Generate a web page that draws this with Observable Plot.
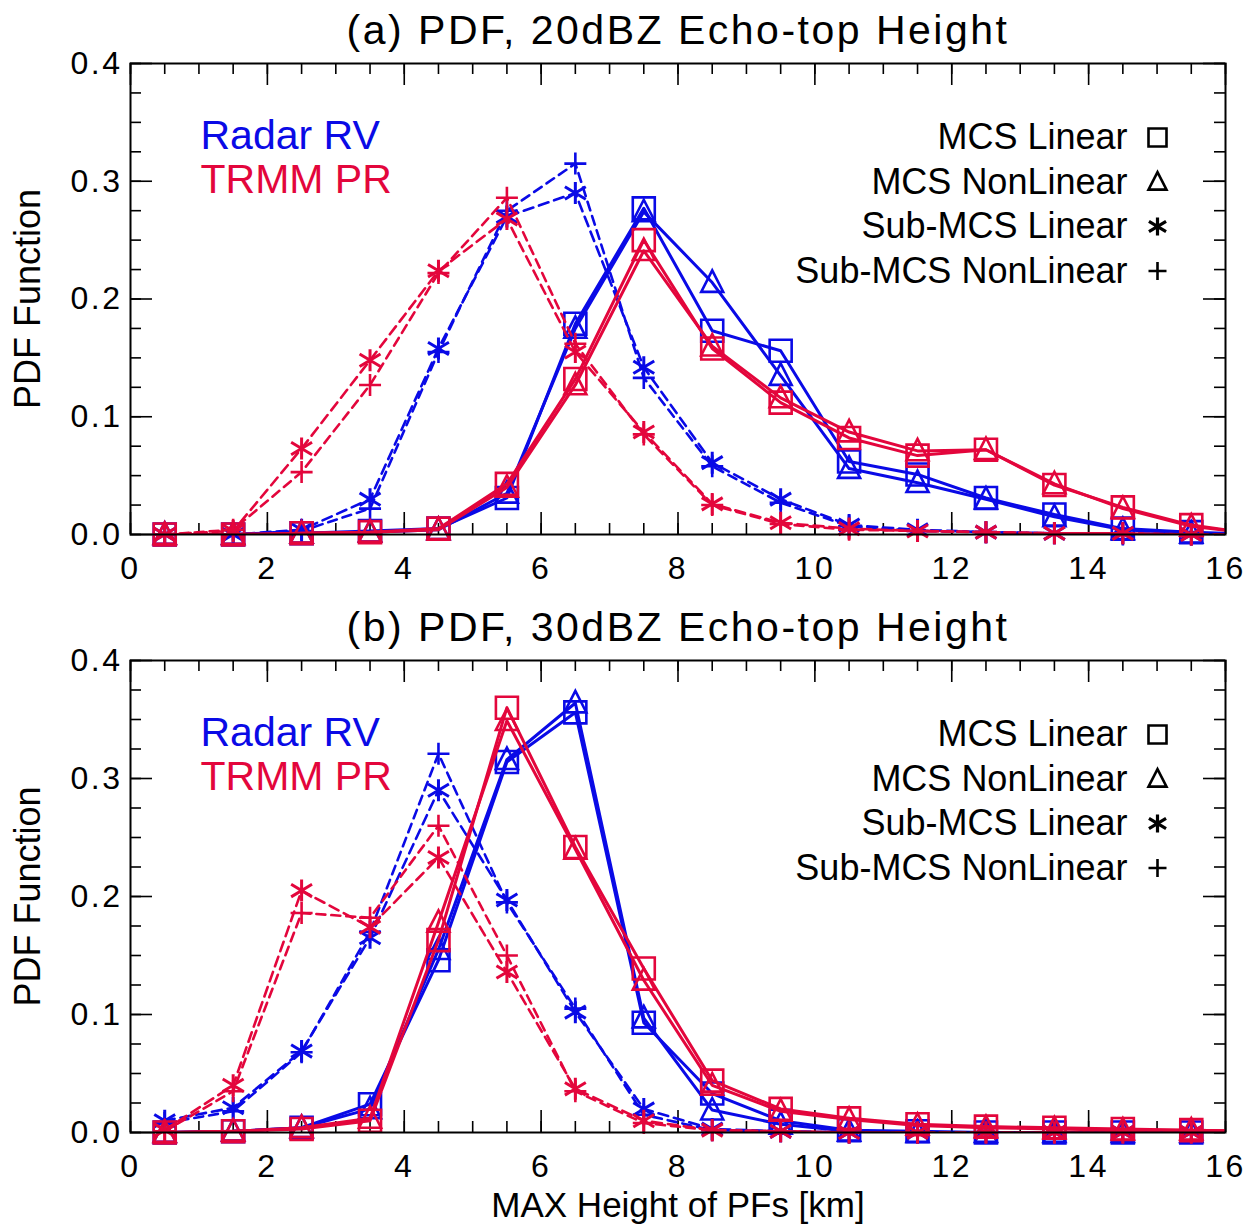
<!DOCTYPE html>
<html>
<head>
<meta charset="utf-8">
<script src="https://cdn.jsdelivr.net/npm/d3@7"></script>
<script src="https://cdn.jsdelivr.net/npm/@observablehq/plot@0.6"></script>
<style>
  body { margin: 0; background: #fff; }
  #fig { position: relative; width: 1255px; height: 1228px; background: #fff; }
  #fig svg { position: absolute; left: 0; overflow: visible; }
  .wide text { letter-spacing: 2.5px; }
</style>
</head>
<body>
<div id="fig"></div>
<script>
// Bin centres of the maximum PF height (km); the last bin lies past the axis and is clipped
const binCenters = [0.5, 1.5, 2.5, 3.5, 4.5, 5.5, 6.5, 7.5, 8.5, 9.5, 10.5, 11.5, 12.5, 13.5, 14.5, 15.5, 16.5];

const sourceNames = ["Radar RV", "TRMM PR"];
const typeNames = ["MCS Linear", "MCS NonLinear", "Sub-MCS Linear", "Sub-MCS NonLinear"];

// (a) 20 dBZ echo-top height PDFs
const a_radar_mcsLinear     = [0, 0, 0.001, 0.003, 0.005, 0.031, 0.179, 0.277, 0.173, 0.156, 0.062, 0.051, 0.031, 0.017, 0.005, 0.002, 0];
const a_radar_mcsNonLinear  = [0, 0, 0.001, 0.002, 0.004, 0.035, 0.175, 0.274, 0.214, 0.135, 0.056, 0.044, 0.030, 0.015, 0.004, 0.001, 0];
const a_radar_subLinear     = [0, 0, 0.004, 0.030, 0.158, 0.270, 0.290, 0.142, 0.061, 0.030, 0.008, 0.004, 0.002, 0.001, 0.001, 0, 0];
const a_radar_subNonLinear  = [0, 0, 0.003, 0.022, 0.155, 0.275, 0.315, 0.133, 0.058, 0.027, 0.007, 0.003, 0.002, 0.001, 0, 0, 0];
const a_trmm_mcsLinear      = [0, 0, 0.001, 0.002, 0.005, 0.043, 0.132, 0.250, 0.158, 0.112, 0.082, 0.067, 0.072, 0.042, 0.023, 0.008, 0];
const a_trmm_mcsNonLinear   = [0, 0, 0.001, 0.002, 0.004, 0.040, 0.127, 0.241, 0.160, 0.116, 0.087, 0.071, 0.072, 0.043, 0.022, 0.007, 0];
const a_trmm_subLinear      = [0, 0.003, 0.073, 0.148, 0.224, 0.268, 0.155, 0.087, 0.026, 0.010, 0.005, 0.003, 0.002, 0.001, 0.001, 0, 0];
const a_trmm_subNonLinear   = [0, 0.004, 0.053, 0.127, 0.222, 0.286, 0.162, 0.085, 0.025, 0.009, 0.004, 0.003, 0.002, 0.001, 0.001, 0, 0];

// (b) 30 dBZ echo-top height PDFs
const b_radar_mcsLinear     = [0, 0.001, 0.004, 0.024, 0.146, 0.314, 0.356, 0.093, 0.033, 0.010, 0.002, 0.001, 0, 0, 0, 0, 0];
const b_radar_mcsNonLinear  = [0, 0.001, 0.004, 0.020, 0.155, 0.316, 0.364, 0.097, 0.019, 0.007, 0.001, 0, 0, 0, 0, 0, 0];
const b_radar_subLinear     = [0.010, 0.021, 0.069, 0.165, 0.290, 0.197, 0.102, 0.020, 0.003, 0.001, 0, 0, 0, 0, 0, 0, 0];
const b_radar_subNonLinear  = [0.008, 0.018, 0.068, 0.170, 0.321, 0.195, 0.105, 0.015, 0.002, 0.001, 0, 0, 0, 0, 0, 0, 0];
const b_trmm_mcsLinear      = [0, 0.001, 0.003, 0.010, 0.163, 0.360, 0.242, 0.139, 0.044, 0.020, 0.012, 0.007, 0.005, 0.004, 0.003, 0.002, 0.001];
const b_trmm_mcsNonLinear   = [0, 0.001, 0.004, 0.012, 0.178, 0.349, 0.240, 0.129, 0.040, 0.018, 0.011, 0.006, 0.004, 0.003, 0.002, 0.002, 0.001];
const b_trmm_subLinear      = [0.002, 0.040, 0.205, 0.174, 0.233, 0.136, 0.037, 0.010, 0.002, 0.001, 0, 0, 0, 0, 0, 0, 0];
const b_trmm_subNonLinear   = [0.001, 0.035, 0.186, 0.182, 0.260, 0.150, 0.035, 0.008, 0.002, 0.001, 0, 0, 0, 0, 0, 0, 0];

// Axis ticks
const xMajorTicks = [0, 2, 4, 6, 8, 10, 12, 14, 16];
const xMinorTicks = d3.range(0, 16.01, 0.5);
const yMajorTicks = [0, 0.1, 0.2, 0.3, 0.4];
const yMinorTicks = d3.range(0, 0.4001, 0.025);

// ---- drawing styles ----
const FONT = "'Liberation Sans', Arial, Helvetica, sans-serif";
const sourceColors = ["#0a0ae6", "#e3063c"];
const rOf = (size) => Math.sqrt(size / Math.PI);
const symbols = [
  { draw(c, size) { const a = rOf(size); c.moveTo(-a, -a); c.lineTo(a, -a); c.lineTo(a, a); c.lineTo(-a, a); c.closePath(); } },
  { draw(c, size) { const a = rOf(size); c.moveTo(0, -a * 1.1); c.lineTo(a, a * 0.85); c.lineTo(-a, a * 0.85); c.closePath(); } },
  { draw(c, size) { const a = rOf(size); const d = a * 0.95;
      c.moveTo(0, -a); c.lineTo(0, a);
      c.moveTo(-d, -d * 0.6); c.lineTo(d, d * 0.6);
      c.moveTo(-d, d * 0.6); c.lineTo(d, -d * 0.6); } },
  { draw(c, size) { const a = rOf(size); c.moveTo(-a, 0); c.lineTo(a, 0); c.moveTo(0, -a); c.lineTo(0, a); } }
];
const dashes = [null, null, "10,6", "9,6"];

function buildRows(seriesBySource) {
  const rows = [];
  seriesBySource.forEach((bySource, si) => {
    bySource.forEach((values, ti) => {
      values.forEach((v, i) => rows.push({source: sourceNames[si], type: typeNames[ti], x: binCenters[i], y: v}));
    });
  });
  return rows;
}

function panel({title, seriesBySource, height, marginBottom, xLabel}) {
  const width = 1255, marginLeft = 130, marginRight = 30, marginTop = 63;
  const plotW = width - marginLeft - marginRight;
  const plotH = height - marginTop - marginBottom;
  const rows = buildRows(seriesBySource);
  const xMax = 16;
  const tickStyle = {stroke: "black", strokeWidth: 1.6};
  const majorLen = 22, minorLen = 11;

  const marks = [
    // inward ticks on all four sides
    Plot.ruleX(xMinorTicks, {...tickStyle, insetTop: plotH - minorLen}),
    Plot.ruleX(xMinorTicks, {...tickStyle, insetBottom: plotH - minorLen}),
    Plot.ruleX(xMajorTicks, {...tickStyle, insetTop: plotH - majorLen}),
    Plot.ruleX(xMajorTicks, {...tickStyle, insetBottom: plotH - majorLen}),
    Plot.ruleY(yMinorTicks, {...tickStyle, insetRight: plotW - minorLen}),
    Plot.ruleY(yMinorTicks, {...tickStyle, insetLeft: plotW - minorLen}),
    Plot.ruleY(yMajorTicks, {...tickStyle, insetRight: plotW - majorLen}),
    Plot.ruleY(yMajorTicks, {...tickStyle, insetLeft: plotW - majorLen}),
    Plot.axisX(xMajorTicks, {tickSize: 0, tickPadding: 22, fontSize: 32, label: null, fill: "black", className: "wide"}),
    Plot.axisY(yMajorTicks, {tickSize: 0, tickPadding: 8, fontSize: 32, label: null, tickFormat: d3.format(".1f"), fill: "black", className: "wide"}),
    Plot.text(["PDF Function"], {frameAnchor: "left", dx: -102, rotate: -90, textAnchor: "middle", lineAnchor: "middle", fontSize: 36, fill: "black"}),
    Plot.text([title], {frameAnchor: "top", dy: -33, lineAnchor: "middle", fontSize: 41, fill: "black", className: "wide"})
  ];
  if (xLabel) marks.push(Plot.text([xLabel], {frameAnchor: "bottom", dy: 73, lineAnchor: "middle", fontSize: 35, fill: "black"}));

  // series: radar first, TRMM on top
  sourceNames.forEach((src, si) => {
    typeNames.forEach((typ, ti) => {
      const sel = (d) => d.source === src && d.type === typ;
      marks.push(Plot.line(rows, {
        filter: sel, x: "x", y: "y", stroke: sourceColors[si],
        strokeWidth: ti < 2 ? 3 : 2.6, strokeDasharray: dashes[ti], clip: true
      }));
      marks.push(Plot.dot(rows, {
        filter: (d) => sel(d) && d.x <= xMax, x: "x", y: "y", symbol: symbols[ti], r: 11,
        stroke: sourceColors[si], strokeWidth: ti === 2 ? 3 : 2.6, fill: "none"
      }));
    });
  });

  // source labels (upper left)
  sourceNames.forEach((src, si) => {
    marks.push(Plot.text([src], {frameAnchor: "top-left", dx: 70, dy: 72 + 44 * si, textAnchor: "start", lineAnchor: "middle", fontSize: 41, fill: sourceColors[si]}));
  });
  // marker key (upper right)
  typeNames.forEach((typ, ti) => {
    const dy = 74 + 44.5 * ti;
    marks.push(Plot.text([typ], {frameAnchor: "top-right", dx: -98, dy, textAnchor: "end", lineAnchor: "middle", fontSize: 36, fill: "black"}));
    marks.push(Plot.dot([typ], {frameAnchor: "top-right", dx: -68, dy, symbol: symbols[ti], r: 9, stroke: "black", strokeWidth: ti === 2 ? 3.2 : 2.6, fill: "none"}));
  });
  marks.push(Plot.frame({stroke: "black", strokeWidth: 2}));

  return Plot.plot({
    width, height, marginLeft, marginRight, marginTop, marginBottom,
    x: {domain: [0, 16]},
    y: {domain: [0, 0.4]},
    style: {fontFamily: FONT, background: "transparent", overflow: "visible", color: "black"},
    marks
  });
}

const fig = document.getElementById("fig");
const svgA = panel({
  title: "(a) PDF, 20dBZ Echo-top Height",
  seriesBySource: [
    [a_radar_mcsLinear, a_radar_mcsNonLinear, a_radar_subLinear, a_radar_subNonLinear],
    [a_trmm_mcsLinear, a_trmm_mcsNonLinear, a_trmm_subLinear, a_trmm_subNonLinear]
  ],
  height: 597, marginBottom: 63
});
svgA.style.top = "0px";
fig.appendChild(svgA);

const svgB = panel({
  title: "(b) PDF, 30dBZ Echo-top Height",
  seriesBySource: [
    [b_radar_mcsLinear, b_radar_mcsNonLinear, b_radar_subLinear, b_radar_subNonLinear],
    [b_trmm_mcsLinear, b_trmm_mcsNonLinear, b_trmm_subLinear, b_trmm_subNonLinear]
  ],
  height: 631, marginBottom: 96,
  xLabel: "MAX Height of PFs [km]"
});
svgB.style.top = "597px";
fig.appendChild(svgB);
</script>
</body>
</html>
